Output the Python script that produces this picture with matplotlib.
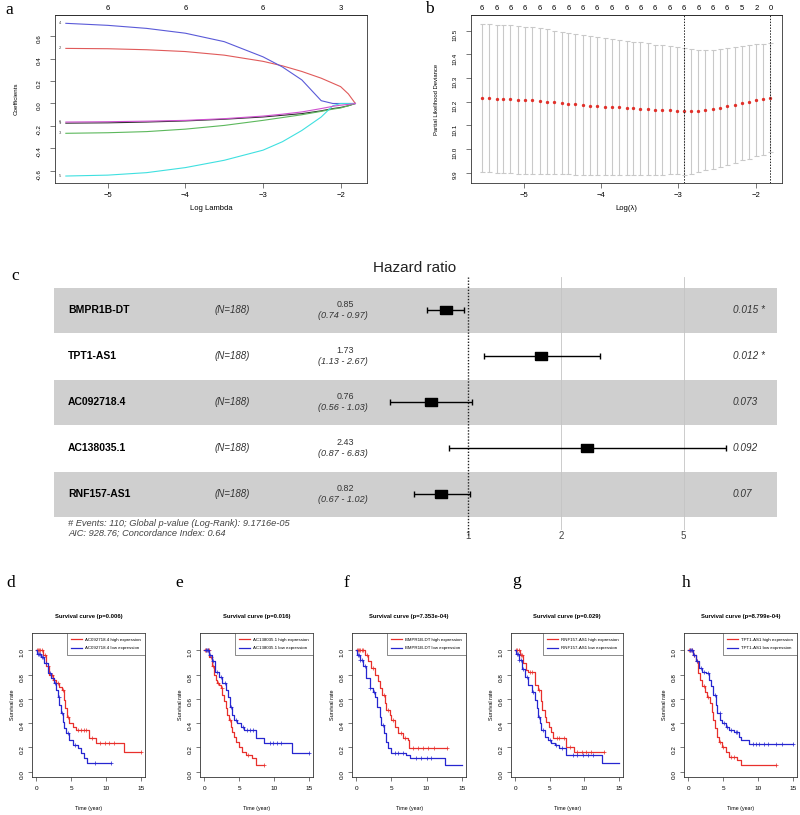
import numpy as np
import matplotlib
matplotlib.use('Agg')
import matplotlib.pyplot as plt
from matplotlib import transforms
from matplotlib.ticker import NullLocator

plt.rcParams['font.family'] = ['Liberation Sans', 'DejaVu Sans']

W, H = 800, 815

# ---------------- a: lasso coefficient paths
lam_a = [-5.54, -5.0, -4.5, -4.0, -3.5, -3.0, -2.75, -2.5, -2.25, -2.1, -2.0, -1.9, -1.81]
coef_1 = [-0.175, -0.172, -0.165, -0.155, -0.14, -0.12, -0.105, -0.09, -0.065, -0.045, -0.035, -0.02, 0.0]
coef_2 = [0.49, 0.487, 0.478, 0.462, 0.43, 0.375, 0.335, 0.285, 0.225, 0.18, 0.15, 0.085, 0.0]
coef_3 = [-0.265, -0.26, -0.25, -0.228, -0.195, -0.15, -0.125, -0.10, -0.07, -0.05, -0.04, -0.02, 0.0]
coef_4 = [0.713, 0.695, 0.668, 0.625, 0.55, 0.415, 0.325, 0.21, 0.025, 0.0, 0.0, 0.0, 0.0]
coef_5 = [-0.645, -0.637, -0.615, -0.57, -0.505, -0.415, -0.34, -0.24, -0.12, -0.02, 0.0, 0.0, 0.0]
coef_6 = [-0.165, -0.162, -0.157, -0.15, -0.135, -0.112, -0.095, -0.075, -0.045, -0.025, -0.015, -0.008, 0.0]
top_a_ticks = [-5, -4, -3, -2]
top_a_labels = ['6', '6', '6', '3']

# ---------------- b: cross-validation curve
lam_b = [-5.54, -5.45, -5.35, -5.26, -5.17, -5.07, -4.98, -4.89, -4.79, -4.70,
         -4.61, -4.51, -4.42, -4.33, -4.23, -4.14, -4.05, -3.95, -3.86, -3.77,
         -3.67, -3.58, -3.49, -3.39, -3.30, -3.21, -3.11, -3.02, -2.93, -2.83,
         -2.74, -2.65, -2.55, -2.46, -2.37, -2.27, -2.18, -2.09, -1.99, -1.90, -1.81]
cvm = [10.215, 10.214, 10.213, 10.211, 10.210, 10.208, 10.207, 10.206, 10.203, 10.200,
       10.197, 10.194, 10.192, 10.189, 10.186, 10.183, 10.182, 10.179, 10.178, 10.176,
       10.173, 10.172, 10.171, 10.169, 10.166, 10.165, 10.164, 10.162, 10.159, 10.159,
       10.161, 10.164, 10.168, 10.173, 10.180, 10.187, 10.194, 10.200, 10.206, 10.211, 10.217]
cvsd = [0.312, 0.312, 0.312, 0.312, 0.312, 0.311, 0.310, 0.309, 0.307, 0.305,
        0.303, 0.301, 0.299, 0.297, 0.295, 0.293, 0.291, 0.289, 0.287, 0.285,
        0.283, 0.281, 0.279, 0.277, 0.275, 0.273, 0.271, 0.269, 0.267, 0.263,
        0.258, 0.254, 0.251, 0.248, 0.246, 0.244, 0.242, 0.240, 0.237, 0.234, 0.231]
nzero_b = ['6', '6', '6', '6', '6', '6', '6', '6', '6', '6', '6', '6', '6', '6', '6',
           '6', '6', '6', '5', '2', '0']
lam_min, lam_1se = -2.93, -1.81

# ---------------- c: forest plot
genes = ['BMPR1B-DT', 'TPT1-AS1', 'AC092718.4', 'AC138035.1', 'RNF157-AS1']
hr = [0.85, 1.73, 0.76, 2.43, 0.82]
hr_lo = [0.74, 1.13, 0.56, 0.87, 0.67]
hr_hi = [0.97, 2.67, 1.03, 6.83, 1.02]
pvals = ['0.015 *', '0.012 *', '0.073', '0.092', '0.07']
n_obs = 188

# ---------------- d-h: Kaplan-Meier curves (time, survival, censor times)
d_hi_t = [0, 0.95, 1.43, 1.9, 2.38, 2.86, 3.33, 3.67, 3.95, 4.14, 4.43, 4.76, 5.24, 5.71, 7.5, 8.57, 12.6, 15.0]
d_hi_s = [1.0, 0.964, 0.868, 0.80, 0.757, 0.73, 0.702, 0.675, 0.592, 0.523, 0.455, 0.40, 0.372, 0.344, 0.275, 0.234, 0.16, 0.16]
d_hi_c = [0.15, 0.3, 0.45, 0.6, 0.8, 1.2, 1.7, 2.2, 2.6, 3.1, 3.8, 4.6, 6.0, 6.4, 6.8, 7.2, 8.0, 9.2, 9.8, 10.4, 11.2, 15.0]
d_lo_t = [0, 0.1, 0.71, 1.19, 1.67, 2.14, 2.52, 2.86, 3.1, 3.33, 3.57, 3.81, 4.05, 4.29, 4.76, 5.24, 5.95, 6.43, 6.9, 7.29, 10.7]
d_lo_s = [1.0, 0.97, 0.95, 0.895, 0.81, 0.77, 0.73, 0.675, 0.62, 0.55, 0.483, 0.413, 0.358, 0.317, 0.262, 0.22, 0.193, 0.152, 0.11, 0.069, 0.069]
d_lo_c = [0.2, 0.35, 0.5, 0.8, 1.0, 1.4, 2.0, 2.7, 3.2, 3.7, 4.5, 5.5, 8.4, 10.7]

e_hi_t = [0, 0.71, 1.19, 1.43, 1.67, 1.9, 2.14, 2.38, 2.62, 2.86, 3.1, 3.33, 3.57, 3.81, 4.05, 4.29, 4.52, 5.0, 5.48, 5.95, 6.9, 7.38, 8.57]
e_hi_s = [1.0, 0.95, 0.868, 0.8, 0.758, 0.73, 0.716, 0.69, 0.634, 0.579, 0.523, 0.468, 0.427, 0.372, 0.33, 0.289, 0.248, 0.207, 0.165, 0.138, 0.11, 0.055, 0.055]
e_hi_c = [0.15, 0.3, 0.5, 0.7, 1.0, 1.3, 2.0, 2.5, 3.7, 6.3, 8.57]
e_lo_t = [0, 0.71, 1.19, 1.57, 2.14, 2.62, 3.1, 3.43, 3.67, 3.95, 4.29, 4.76, 5.24, 5.71, 7.38, 8.57, 12.6, 15.0]
e_lo_s = [1.0, 0.964, 0.909, 0.826, 0.785, 0.73, 0.675, 0.62, 0.537, 0.468, 0.427, 0.4, 0.372, 0.344, 0.275, 0.234, 0.157, 0.157]
e_lo_c = [0.2, 0.4, 0.6, 0.9, 1.3, 1.8, 2.4, 3.0, 3.8, 4.5, 5.5, 6.2, 6.6, 7.0, 9.4, 9.9, 10.4, 11.0, 15.0]

f_hi_t = [0, 1.19, 1.67, 2.14, 2.62, 3.1, 3.43, 3.71, 4.05, 4.29, 4.76, 5.0, 5.48, 5.95, 6.67, 7.29, 7.48, 12.86]
f_hi_s = [1.0, 0.964, 0.909, 0.854, 0.799, 0.744, 0.689, 0.634, 0.565, 0.51, 0.468, 0.427, 0.372, 0.317, 0.275, 0.262, 0.193, 0.193]
f_hi_c = [0.15, 0.3, 0.45, 0.6, 0.8, 1.0, 1.5, 2.4, 3.9, 4.5, 5.2, 6.3, 7.0, 8.0, 8.8, 9.5, 10.2, 11.0, 12.86]
f_lo_t = [0, 0.1, 0.48, 0.95, 1.43, 1.9, 2.38, 2.71, 3.0, 3.33, 3.57, 3.95, 4.29, 4.52, 4.9, 7.14, 7.6, 12.6, 15.0]
f_lo_s = [1.0, 0.964, 0.923, 0.868, 0.771, 0.689, 0.661, 0.62, 0.537, 0.455, 0.386, 0.317, 0.248, 0.193, 0.157, 0.138, 0.11, 0.055, 0.055]
f_lo_c = [0.2, 0.35, 0.6, 0.8, 1.2, 2.0, 2.5, 3.8, 5.5, 6.0, 6.6, 8.5, 9.2, 10.0, 10.6]

g_hi_t = [0, 0.7, 1.2, 1.6, 1.9, 2.86, 3.33, 3.71, 3.95, 4.29, 4.52, 4.9, 5.2, 5.48, 7.38, 8.57, 12.86]
g_hi_s = [1.0, 0.964, 0.895, 0.84, 0.826, 0.716, 0.675, 0.58, 0.51, 0.455, 0.413, 0.372, 0.33, 0.28, 0.207, 0.16, 0.16]
g_hi_c = [0.15, 0.3, 0.5, 0.8, 1.0, 2.2, 2.5, 3.5, 6.0, 6.4, 7.0, 8.0, 9.0, 9.6, 10.3, 11.0, 12.86]
g_lo_t = [0, 0.1, 0.5, 1.0, 1.4, 1.9, 2.4, 2.9, 3.1, 3.3, 3.6, 3.8, 4.3, 4.8, 5.2, 5.7, 6.4, 7.4, 12.6, 15.0]
g_lo_s = [1.0, 0.97, 0.92, 0.85, 0.785, 0.716, 0.661, 0.593, 0.524, 0.455, 0.40, 0.345, 0.29, 0.262, 0.234, 0.22, 0.193, 0.138, 0.069, 0.069]
g_lo_c = [0.2, 0.35, 0.6, 0.8, 1.2, 1.7, 2.6, 3.5, 4.0, 5.0, 5.9, 6.8, 8.3, 9.0, 9.8, 10.5, 11.3]

h_hi_t = [0, 0.62, 1.1, 1.43, 1.71, 2.05, 2.38, 2.76, 3.14, 3.48, 3.62, 3.81, 4.1, 4.43, 4.9, 5.38, 5.86, 7.05, 7.52, 12.6]
h_hi_s = [1.0, 0.964, 0.909, 0.813, 0.758, 0.703, 0.661, 0.62, 0.565, 0.496, 0.427, 0.358, 0.289, 0.248, 0.207, 0.165, 0.124, 0.096, 0.055, 0.055]
h_hi_c = [0.15, 0.3, 0.5, 0.8, 1.3, 2.2, 2.9, 4.6, 5.0, 6.2, 6.6, 12.6]
h_lo_t = [0, 0.62, 1.1, 1.57, 2.05, 2.52, 3.0, 3.33, 3.62, 3.95, 4.19, 4.57, 4.9, 5.38, 5.86, 6.57, 7.29, 7.62, 8.71, 15.0]
h_lo_s = [1.0, 0.964, 0.909, 0.854, 0.826, 0.813, 0.758, 0.703, 0.634, 0.551, 0.482, 0.427, 0.4, 0.372, 0.344, 0.331, 0.289, 0.262, 0.229, 0.229]
h_lo_c = [0.2, 0.4, 0.6, 0.9, 1.2, 1.9, 2.3, 2.8, 3.8, 4.5, 5.2, 5.6, 6.2, 6.8, 7.0, 9.3, 9.7, 10.2, 10.8, 11.5, 12.6, 13.5, 15.0]

surv_pvals = ['0.006', '0.016', '7.353e-04', '0.029', '8.799e-04']
surv_genes = ['AC092718.4', 'AC138035.1', 'BMPR1B-DT', 'RNF157-AS1', 'TPT1-AS1']

fig = plt.figure(figsize=(W / 100, H / 100), dpi=100)


def px_axes(x0, y0, x1, y1):
    return fig.add_axes([x0 / W, 1 - y1 / H, (x1 - x0) / W, (y1 - y0) / H])


def ftext(x, y, s, **kw):
    fig.text(x / W, 1 - y / H, s, **kw)


def r_frame(ax, lw=0.6):
    for sp in ax.spines.values():
        sp.set_linewidth(lw)
        sp.set_color('#333333')


# panel labels
for lab, x, y in [('a', 5, 14), ('b', 425, 13), ('c', 11, 280), ('d', 6, 587),
                  ('e', 175, 587), ('f', 343, 587), ('g', 512, 585), ('h', 682, 587)]:
    ftext(x, y, lab, family='Liberation Serif', fontsize=12.5, va='baseline')

# ---------------- a
ax = px_axes(55, 15, 367, 183)
cols_a = ['#333333', '#e05a5a', '#5cb85c', '#5a5ad8', '#3fe0e0', '#d050d0']
paths = [coef_1, coef_2, coef_3, coef_4, coef_5, coef_6]
for c, col in zip(paths, cols_a):
    ax.plot(lam_a, c, color=col, lw=0.8)
for k, c in enumerate(paths):
    ax.text(-5.62, c[0], str(k + 1), fontsize=3, ha='center', va='center', color='#444444')
ax.set_xlim(-5.68, -1.66)
ax.set_ylim(-0.707, 0.787)
ax.set_xticks([-5, -4, -3, -2])
ax.set_yticks([-0.6, -0.4, -0.2, 0.0, 0.2, 0.4, 0.6])
ax.set_yticklabels(['-0.6', '-0.4', '-0.2', '0.0', '0.2', '0.4', '0.6'])
ax.tick_params(axis='both', labelsize=5.5, length=3.5, width=0.5, pad=3, color='#444444')
ax.tick_params(axis='y', labelrotation=90, labelsize=4.5, pad=6)
ax.set_xlabel('Log Lambda', fontsize=5.5, labelpad=4)
ax.set_ylabel('Coefficients', fontsize=4.5, labelpad=13)
r_frame(ax)
sec = ax.secondary_xaxis('top')
sec.set_xticks(top_a_ticks, labels=top_a_labels)
sec.tick_params(length=0, pad=2, labelsize=5.5)
sec.spines['top'].set_linewidth(0.6)

# ---------------- b
ax = px_axes(471, 15, 782, 183)
ax.errorbar(lam_b, cvm, yerr=cvsd, fmt='none', ecolor='#c9c9c9', elinewidth=0.8,
            capsize=1.8, capthick=0.8)
ax.plot(lam_b, cvm, 'o', color='#e0302a', ms=2.4, mew=0)
ax.axvline(lam_min, color='#222222', ls=(0, (1.5, 1.5)), lw=0.7)
ax.axvline(lam_1se, color='#222222', ls=(0, (1.5, 1.5)), lw=0.7)
ax.set_xlim(-5.68, -1.66)
ax.set_ylim(9.857, 10.566)
ax.set_xticks([-5, -4, -3, -2])
ax.set_yticks([9.9, 10.0, 10.1, 10.2, 10.3, 10.4, 10.5])
ax.set_yticklabels(['9.9', '10.0', '10.1', '10.2', '10.3', '10.4', '10.5'])
ax.tick_params(axis='both', labelsize=5.5, length=3.5, width=0.5, pad=3, color='#444444')
ax.tick_params(axis='y', labelrotation=90, labelsize=4.5, pad=6)
ax.set_xlabel('Log(\u03bb)', fontsize=5.5, labelpad=4)
ax.set_ylabel('Partial Likelihood Deviance', fontsize=4.2, labelpad=10)
r_frame(ax)
sec = ax.secondary_xaxis('top')
sec.set_xticks(lam_b[::2], labels=nzero_b)
sec.tick_params(length=0, pad=2, labelsize=5.5)
sec.spines['top'].set_linewidth(0.6)

# ---------------- c
ax = px_axes(54, 277, 777, 530)
ax.set_xscale('log')
ax.set_xlim(0.0458, 10.02)
ax.set_ylim(4.772, -0.728)
rows = np.arange(len(genes))
for r in rows[::2]:
    ax.axhspan(r - 0.49, r + 0.49, color='#cfcfcf', lw=0, zorder=0)
for g in (2, 5):
    ax.axvline(g, color='#c4c4c4', lw=0.6, zorder=1)
ax.axvline(1, color='#222222', ls=(0, (1, 1.2)), lw=1.0, zorder=2, ymin=-0.02, clip_on=False)
hr_a = np.array(hr)
ax.errorbar(hr_a, rows, xerr=[hr_a - np.array(hr_lo), np.array(hr_hi) - hr_a], fmt='none',
            ecolor='black', elinewidth=1.0, capsize=2.4, capthick=1.0, zorder=3)
rect = [(-1.7, -1), (1.7, -1), (1.7, 1), (-1.7, 1), (-1.7, -1)]
ax.plot(hr_a, rows, ls='none', marker=rect, ms=8.6, color='black', zorder=4)
ax.set_xticks([1, 2, 5])
ax.set_xticklabels(['1', '2', '5'])
ax.xaxis.set_minor_locator(NullLocator())
ax.set_yticks([])
ax.tick_params(axis='x', length=0, pad=1, labelsize=7, labelcolor='#444444')
for sp in ax.spines.values():
    sp.set_visible(False)

tr = transforms.blended_transform_factory(fig.transFigure, ax.transData)
for r, gname, h, lo, hi, p in zip(rows, genes, hr, hr_lo, hr_hi, pvals):
    ax.text(68 / W, r, gname, transform=tr, fontsize=7.5, weight='bold', va='center', ha='left')
    ax.text(232 / W, r, '(N=%d)' % n_obs, transform=tr, fontsize=7, style='italic',
            va='center', ha='center', color='#333333')
    ax.text(345 / W, r - 0.13, '%.2f' % h, transform=tr, fontsize=6.4, va='center',
            ha='center', color='#333333')
    ax.text(343 / W, r + 0.1, '(%.2f - %.2f)' % (lo, hi), transform=tr, fontsize=6.6,
            style='italic', va='center', ha='center', color='#333333')
    ax.text(733 / W, r, p, transform=tr, fontsize=7.2, style='italic', va='center',
            ha='left', color='#333333')

ftext(415, 268, 'Hazard ratio', fontsize=11, ha='center', va='center', color='#222222')
ftext(68, 523, '# Events: 110; Global p-value (Log-Rank): 9.1716e-05', fontsize=6.7,
      style='italic', va='center', color='#444444')
ftext(68, 533, 'AIC: 928.76; Concordance Index: 0.64', fontsize=6.7,
      style='italic', va='center', color='#444444')

# ---------------- d-h
surv_sets = [
    (d_hi_t, d_hi_s, d_hi_c, d_lo_t, d_lo_s, d_lo_c),
    (e_hi_t, e_hi_s, e_hi_c, e_lo_t, e_lo_s, e_lo_c),
    (f_hi_t, f_hi_s, f_hi_c, f_lo_t, f_lo_s, f_lo_c),
    (g_hi_t, g_hi_s, g_hi_c, g_lo_t, g_lo_s, g_lo_c),
    (h_hi_t, h_hi_s, h_hi_c, h_lo_t, h_lo_s, h_lo_c),
]
panel_x = [(32, 145), (200, 313), (352, 466), (511, 623), (684, 797)]


def km(ax, t, s, cens, color, label):
    line, = ax.step(t, s, where='post', color=color, lw=0.9, label=label)
    t = np.asarray(t)
    s = np.asarray(s)
    idx = np.searchsorted(t, cens, side='right') - 1
    ax.plot(cens, s[np.clip(idx, 0, len(s) - 1)], ls='none', marker='+', ms=3, mew=0.5,
            color=color)
    return line


for (x0, x1), data, gname, pv in zip(panel_x, surv_sets, surv_genes, surv_pvals):
    ax = px_axes(x0, 633, x1, 777)
    ht, hs, hc, lt, ls_, lc = data
    l1 = km(ax, ht, hs, hc, '#e8302c', gname + ' high expression')
    l2 = km(ax, lt, ls_, lc, '#2626d0', gname + ' low expression')
    ax.set_xlim(-0.6, 15.6)
    ax.set_ylim(-0.044, 1.144)
    ax.set_xticks([0, 5, 10, 15])
    ax.set_yticks([0.0, 0.2, 0.4, 0.6, 0.8, 1.0])
    ax.set_yticklabels(['0.0', '0.2', '0.4', '0.6', '0.8', '1.0'])
    ax.tick_params(axis='both', labelsize=4.6, length=3, width=0.5, pad=3.5, color='#444444')
    ax.tick_params(axis='y', labelrotation=90, pad=2.5)
    ax.set_xlabel('Time (year)', fontsize=3.8, labelpad=11)
    ax.set_ylabel('Survival rate', fontsize=4, labelpad=3)
    ax.set_title('Survival curve (p=%s)' % pv, fontsize=4.2, weight='bold', pad=11)
    r_frame(ax, 0.6)
    leg = ax.legend(handles=[l1, l2], loc='upper right', fontsize=3.2, fancybox=False,
                    edgecolor='#333333', borderaxespad=0, handlelength=2.4,
                    borderpad=1.0, labelspacing=1.0, handletextpad=0.6)
    leg.get_frame().set_linewidth(0.5)

fig.savefig('out.png', dpi=100)
